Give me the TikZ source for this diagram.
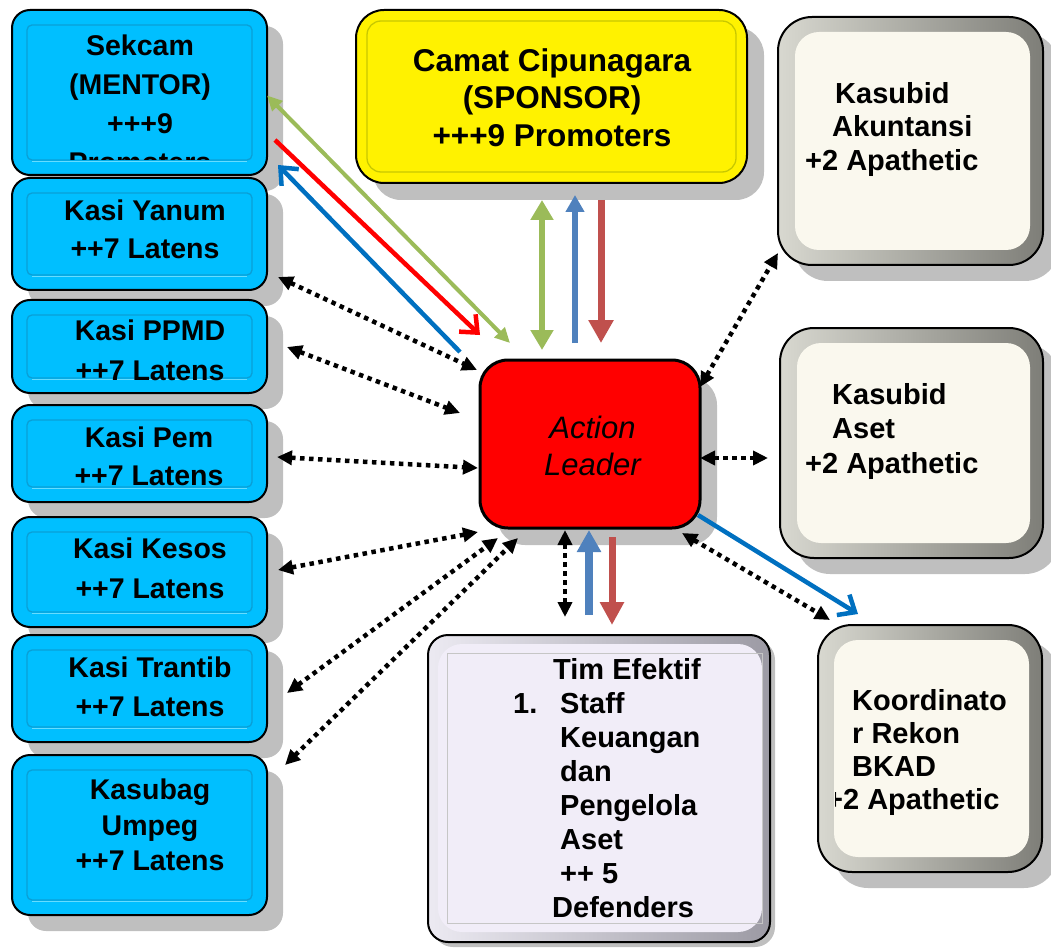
\documentclass[tikz,border=0pt]{standalone}
\usepackage{fontspec}
\setmainfont{Liberation Sans}
\usetikzlibrary{arrows.meta,shadows}

\definecolor{boxblue}{HTML}{00BFFF}
\definecolor{bevelblue}{HTML}{0A9FD6}
\definecolor{hiblue}{HTML}{66DDFF}
\definecolor{shade}{HTML}{BFBFBF}
\definecolor{cream}{HTML}{FAF8EE}
\definecolor{bevellight}{HTML}{D8D8D0}
\definecolor{beveldark}{HTML}{7E7E78}
\definecolor{lavender}{HTML}{F1EDF8}
\definecolor{lavlight}{HTML}{ECEAF2}
\definecolor{lavdark}{HTML}{9C9AA4}
\definecolor{yellowdark}{HTML}{C8C800}
\definecolor{olivegreen}{HTML}{9BBB59}
\definecolor{deepblue}{HTML}{0070C0}
\definecolor{steelblue}{HTML}{4F81BD}
\definecolor{brickred}{HTML}{C0504D}

\tikzset{
  box/.style={rounded corners=18pt, draw=black, line width=2pt, inner sep=0pt, outer sep=0pt},
  dropshade/.style={general shadow={fill=shade, shadow xshift=#1, shadow yshift=-#1}},
  bluebox/.style={box, fill=boxblue, minimum width=255pt, dropshade=16pt},
  creambox/.style={box, rounded corners=34pt, left color=bevellight, right color=beveldark, dropshade=16pt},
  txt/.style={font=\bfseries\fontsize{28.5}{38}\selectfont, align=center, inner sep=0pt, anchor=north},
  sidetxt/.style={font=\bfseries\fontsize{29}{#1}\selectfont, align=left, inner sep=0pt, anchor=north west},
  dotlink/.style={line width=4.5pt, black, dash pattern=on 4.5pt off 4.5pt, {Triangle[length=15pt,width=14pt]}-{Triangle[length=15pt,width=14pt]}},
  barb/.style={-{Straight Barb[length=14pt,width=24pt,line width=4.5pt]}},
  diag/.style={line width=4.5pt},
  upright/.style={line width=6.5pt}
}

% inner bevelled frame of a blue box
\newcommand\bluefacet[1]{%
  \draw[bevelblue, line width=1.3pt, rounded corners=5pt]
    ([shift={(15,-15)}]#1.north west) rectangle ([shift={(-15,15)}]#1.south east);
  \draw[hiblue, line width=1.6pt]
    ([shift={(20,13.5)}]#1.south west) -- ([shift={(-20,13.5)}]#1.south east);
}
% flat face inside a bevelled box: node, colour, left, top, right, bottom
\newcommand\boxface[6]{%
  \fill[#2, rounded corners=24pt]
    ([shift={(#3,-#4)}]#1.north west) rectangle ([shift={(-#5,#6)}]#1.south east);
}

\begin{document}
\begin{tikzpicture}[x=1pt, y=1pt]
\useasboundingbox (0,0) rectangle (1051,-949);

% ---- left column ----
\node[bluebox, minimum height=165pt] (sekcam)  at (139.5,-92.5) {};
\node[bluebox, minimum height=112pt] (yanum)   at (139.5,-234) {};
\node[bluebox, minimum height=93pt]  (ppmd)    at (139.5,-346.5) {};
\node[bluebox, minimum height=97pt]  (pem)     at (139.5,-453.5) {};
\node[bluebox, minimum height=110pt] (kesos)   at (139.5,-572) {};
\node[bluebox, minimum height=107pt] (trantib) at (139.5,-688.5) {};
\node[bluebox, minimum height=160pt] (umpeg)   at (139.5,-835) {};
\foreach \b in {sekcam,yanum,ppmd,pem,kesos,trantib,umpeg}{\bluefacet{\b}}

% ---- sponsor ----
\node[box, rounded corners=28pt, fill=yellow, minimum width=391pt, minimum height=173pt,
      dropshade=17pt] (camat) at (551.5,-96.5) {};
\draw[yellowdark, line width=1.3pt, rounded corners=14pt]
  ([shift={(11,-11)}]camat.north west) rectangle ([shift={(-11,11)}]camat.south east);

% ---- action leader ----
\node[box, rounded corners=28pt, fill=red, line width=3pt, minimum width=220pt, minimum height=168pt,
      dropshade=17pt] (lead) at (590,-444) {};

% ---- right column ----
\node[creambox, minimum width=265pt, minimum height=248pt] (akun)  at (910.5,-141) {};
\boxface{akun}{cream}{17}{15}{13}{15}
\node[creambox, minimum width=263pt, minimum height=230pt] (aset)  at (911.5,-443) {};
\boxface{aset}{cream}{17}{15}{13}{15}
\node[creambox, minimum width=224pt, minimum height=247pt] (koord) at (930,-748.5) {};
\boxface{koord}{cream}{16}{15}{13}{15}

% ---- effective team ----
\node[box, rounded corners=20pt, left color=lavlight, right color=lavdark, minimum width=342pt,
      minimum height=307pt, dropshade=5pt] (tim) at (599,-788.5) {};
\boxface{tim}{lavender}{10}{9}{8}{10}
\draw[gray!45, line width=1pt]
  ([shift={(19,-18)}]tim.north west) rectangle ([shift={(-8,19)}]tim.south east);

% ---- texts ----
\begin{scope}
  \clip (27,-25) rectangle (252,-160);
  \node[txt, font=\bfseries\fontsize{28.5}{39}\selectfont] (sekcamT) at (140,-35)
    {Sekcam\\(MENTOR)\\+++9\\Promoters};
\end{scope}
\node[txt] (yanumT)   at (145,-200) {Kasi Yanum\\++7 Latens};
\node[txt, font=\bfseries\fontsize{28.5}{39.5}\selectfont] (ppmdT) at (150,-320) {Kasi PPMD\\++7 Latens};
\node[txt, font=\bfseries\fontsize{28.5}{37.5}\selectfont] (pemT) at (149,-427) {Kasi Pem\\++7 Latens};
\node[txt, font=\bfseries\fontsize{28.5}{39.5}\selectfont] (kesosT) at (150,-538) {Kasi Kesos\\++7 Latens};
\node[txt, font=\bfseries\fontsize{28.5}{39}\selectfont] (trantibT) at (150,-657) {Kasi Trantib\\++7 Latens};
\node[txt, font=\bfseries\fontsize{28.5}{35.5}\selectfont] (umpegT) at (150,-779) {Kasubag\\Umpeg\\++7 Latens};

\node[txt, font=\bfseries\fontsize{31.5}{37.5}\selectfont] (camatT) at (552,-48)
  {Camat Cipunagara\\(SPONSOR)\\+++9 Promoters};
\node[txt, font=\itshape\fontsize{31}{37}\selectfont] (leadT) at (592.5,-416) {Action\\Leader};

\node[sidetxt=33.5] (akunT) at (805,-82)
  {\hspace*{30pt}Kasubid\\\hspace*{27pt}Akuntansi\\+2 Apathetic};
\node[sidetxt=34.5] (asetT) at (805,-383)
  {\hspace*{27pt}Kasubid\\\hspace*{27pt}Aset\\+2 Apathetic};
\begin{scope}
  \clip (835,-640) rectangle (1030,-860);
  \node[sidetxt=33] (koordT) at (826,-689)
    {\hspace*{26pt}Koordinato\\\hspace*{26pt}r Rekon\\\hspace*{26pt}BKAD\\+2 Apathetic};
\end{scope}
\node[sidetxt=34.1] (timT) at (513,-658)
  {\hspace*{40pt}Tim Efektif\\\makebox[47pt][l]{1.}Staff\\\hspace*{47pt}Keuangan\\\hspace*{47pt}dan\\%
   \hspace*{47pt}Pengelola\\\hspace*{47pt}Aset\\\hspace*{47pt}++ 5\\\hspace*{39pt}Defenders};

% ---- mentor links ----
\draw[diag, line width=4pt, olivegreen, {Triangle[length=15pt,width=14pt]}-{Triangle[length=15pt,width=14pt]}]
  ([shift={(0,-3)}]sekcam.east) -- ([shift={(30,17)}]lead.north west);
\draw[diag, red, barb] ([shift={(8,-47.5)}]sekcam.east) -- ([shift={(0,25)}]lead.north west);
\draw[diag, deepblue, barb] ([shift={(-20,8)}]lead.north west) -- ([shift={(11,10)}]sekcam.south east);

% ---- sponsor links ----
\draw[upright, olivegreen, {Triangle[length=20pt,width=22pt]}-{Triangle[length=20pt,width=22pt]}]
  ([shift={(-9.5,-17)}]camat.south) -- ([shift={(-48,10)}]lead.north);
\draw[upright, steelblue, -{Triangle[length=17pt,width=18pt]}]
  ([shift={(-15,17)}]lead.north) -- ([shift={(23.5,-12)}]camat.south);
\draw[upright, line width=7pt, brickred, -{Triangle[length=23pt,width=24pt]}]
  ([shift={(49.5,-17)}]camat.south) -- ([shift={(11,17)}]lead.north);

% ---- team links ----
\draw[dotlink] ([shift={(-25,-2)}]lead.south) -- ([shift={(-34,18)}]tim.north);
\draw[upright, line width=7.5pt, steelblue, -{Triangle[length=22pt,width=23pt]}]
  ([shift={(-10,20)}]tim.north) -- ([shift={(-1,-2)}]lead.south);
\draw[upright, line width=7pt, brickred, -{Triangle[length=23pt,width=23pt]}]
  ([shift={(22,-9)}]lead.south) -- ([shift={(13,10)}]tim.north);

% ---- right links ----
\draw[dotlink] ([shift={(0,-27)}]lead.north east) -- ([shift={(0,12)}]akun.south west);
\draw[dotlink] ([shift={(0,-14)}]lead.east) -- ([shift={(-12,-15)}]aset.west);
\draw[diag, deepblue, barb] ([shift={(-2,13)}]lead.south east) -- ([shift={(40,11)}]koord.north west);
\draw[dotlink] ([shift={(-18,-5)}]lead.south east) -- ([shift={(12,5)}]koord.north west);

% ---- left links ----
\draw[dotlink] ([shift={(11,13)}]yanum.south east) -- ([shift={(-3,-10)}]lead.north west);
\draw[dotlink] ([shift={(20,-0.5)}]ppmd.east) -- ([shift={(-20,31)}]lead.west);
\draw[dotlink] ([shift={(10,-3.5)}]pem.east) -- ([shift={(-2,-24)}]lead.west);
\draw[dotlink] ([shift={(11,2)}]kesos.east) -- ([shift={(-2,-4)}]lead.south west);
\draw[dotlink] ([shift={(20,-4.5)}]trantib.east) -- ([shift={(18,-10)}]lead.south west);
\draw[dotlink] ([shift={(18,-10)}]umpeg.north east) -- ([shift={(38,-10)}]lead.south west);
\end{tikzpicture}
\end{document}
